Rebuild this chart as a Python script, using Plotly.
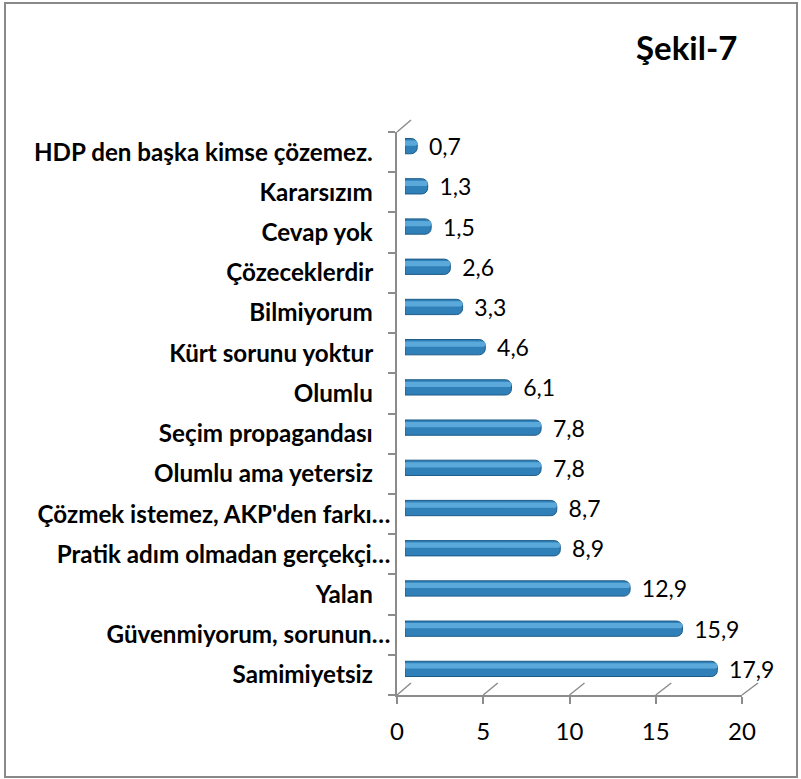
import plotly.graph_objects as go

# ---- data (bottom to top) ----
categories = ["Samimiyetsiz", "Güvenmiyorum, sorunun…", "Yalan",
              "Pratik adım olmadan gerçekçi…", "Çözmek istemez, AKP'den farkı…",
              "Olumlu ama yetersiz", "Seçim propagandası", "Olumlu",
              "Kürt sorunu yoktur", "Bilmiyorum", "Çözeceklerdir", "Cevap yok",
              "Kararsızım", "HDP den başka kimse çözemez."]
values = [17.9, 15.9, 12.9, 8.9, 8.7, 7.8, 7.8, 6.1, 4.6, 3.3, 2.6, 1.5, 1.3, 0.7]
x_ticks = [0, 5, 10, 15, 20]
title_text = "Şekil-7"

W, H = 801, 779
def px(x):
    return x / W
def py(y):
    return 1 - y / H

# geometry of the pseudo-3D box (pixels)
BX0, BX1, BY0, BY1 = 411, 758, 120, 683   # back wall
FX0, FX1, FY0, FY1 = 397, 742, 132, 695   # front
MX0, MX1, MY0, MY1 = 405, 754, 126, 689   # bar plane

GRAY = "#8c8c8c"
FONT = "Lato"

# labels shown on the front axis: truncated labels extend a bit further right
display = [c if c.endswith("…") else c + "\u00a0\u00a0\u00a0" for c in categories]

fig = go.Figure()

# main cylinder bodies
fig.add_trace(go.Bar(
    x=values, y=categories, orientation="h", xaxis="x2", yaxis="y",
    width=0.38,
    marker=dict(color="#2F80B8", line=dict(color="#1D5B87", width=1)),
    texttemplate="\u00a0\u2009%{x:.1f}", textposition="outside",
    textfont=dict(family=FONT, size=23, color="black"),
    cliponaxis=False, constraintext="none", showlegend=False, hoverinfo="skip",
))
# highlight stripe
fig.add_trace(go.Bar(
    x=values, y=categories, orientation="h", xaxis="x2", yaxis="y",
    width=0.13, offset=0.01,
    marker=dict(color="#5AA9DA", line=dict(width=0)),
    showlegend=False, hoverinfo="skip",
))
# invisible helper trace for the front (label) axes
fig.add_trace(go.Scatter(
    x=values, y=display, mode="markers", xaxis="x3", yaxis="y3",
    marker=dict(opacity=0), showlegend=False, hoverinfo="skip",
))

shapes = []
# floor connectors
for t in x_ticks:
    fx = FX0 + t / 20 * (FX1 - FX0)
    bx = BX0 + t / 20 * (BX1 - BX0)
    shapes.append(dict(type="line", xref="paper", yref="paper",
                       x0=px(fx), y0=py(FY1), x1=px(bx), y1=py(BY1),
                       line=dict(color=GRAY, width=1.5)))
# top-left wall edge
shapes.append(dict(type="line", xref="paper", yref="paper",
                   x0=px(FX0), y0=py(FY0), x1=px(BX0), y1=py(BY0),
                   line=dict(color=GRAY, width=1.5)))
# outer frame
shapes.append(dict(type="rect", xref="paper", yref="paper",
                   x0=px(5), y0=py(777), x1=px(797), y1=py(3),
                   line=dict(color="#898989", width=2)))

fig.update_layout(
    width=W, height=H, autosize=False,
    margin=dict(l=0, r=0, t=0, b=0, pad=0),
    paper_bgcolor="white", plot_bgcolor="rgba(0,0,0,0)",
    separators=",.",
    barmode="overlay", barcornerradius=6,
    font=dict(family=FONT, color="black"),
    shapes=shapes,
    annotations=[dict(text="<b>" + title_text + "</b>", xref="paper", yref="paper",
                      x=px(686), y=py(47), xanchor="center", yanchor="middle",
                      showarrow=False,
                      font=dict(family=FONT, size=33, color="black"))],
    # back grid axes
    xaxis=dict(domain=[px(BX0), px(BX1)], anchor="y2", range=[0, 20],
               tickvals=x_ticks, showgrid=True, gridcolor=GRAY, gridwidth=1.5,
               showticklabels=False, ticks="", showline=True, linecolor=GRAY,
               linewidth=1.5, zeroline=False, fixedrange=True, automargin=False),
    yaxis2=dict(domain=[py(BY1), py(BY0)], anchor="x", range=[0, 1],
                visible=False, fixedrange=True, automargin=False),
    # bar axes
    xaxis2=dict(domain=[px(MX0), px(MX1)], anchor="y", range=[0, 20],
                visible=False, fixedrange=True, automargin=False),
    yaxis=dict(domain=[py(MY1), py(MY0)], anchor="x2", type="category",
               categoryorder="array", categoryarray=categories,
               range=[-0.5, len(categories) - 0.5], visible=False, fixedrange=True,
               automargin=False),
    # front label axes
    xaxis3=dict(domain=[px(FX0), px(FX1)], anchor="y3", range=[0, 20],
                tickvals=x_ticks, ticks="outside", ticklen=7, tickwidth=1.5,
                tickcolor=GRAY, showline=True, linecolor=GRAY, linewidth=1.5,
                showgrid=False, zeroline=False, ticklabelstandoff=7,
                tickfont=dict(family=FONT, size=24, color="black"), fixedrange=True,
                automargin=False),
    yaxis3=dict(domain=[py(FY1), py(FY0)], anchor="x3", type="category",
                categoryorder="array", categoryarray=display,
                range=[-0.5, len(display) - 0.5], tickson="boundaries",
                ticks="outside", ticklen=7, tickwidth=1.5, tickcolor=GRAY,
                showline=True, linecolor=GRAY, linewidth=1.5, showgrid=False,
                zeroline=False, ticklabelstandoff=0,
                tickfont=dict(family=FONT, size=24.2, color="black", weight="bold"),
                fixedrange=True, automargin=False),
)

post = (
    "document.documentElement.style.margin='0';"
    "document.body.style.margin='0';"
    "document.body.style.padding='0';"
    "document.body.style.overflow='hidden';"
)
fig.write_html("out.html", config={"displayModeBar": False}, post_script=post)
